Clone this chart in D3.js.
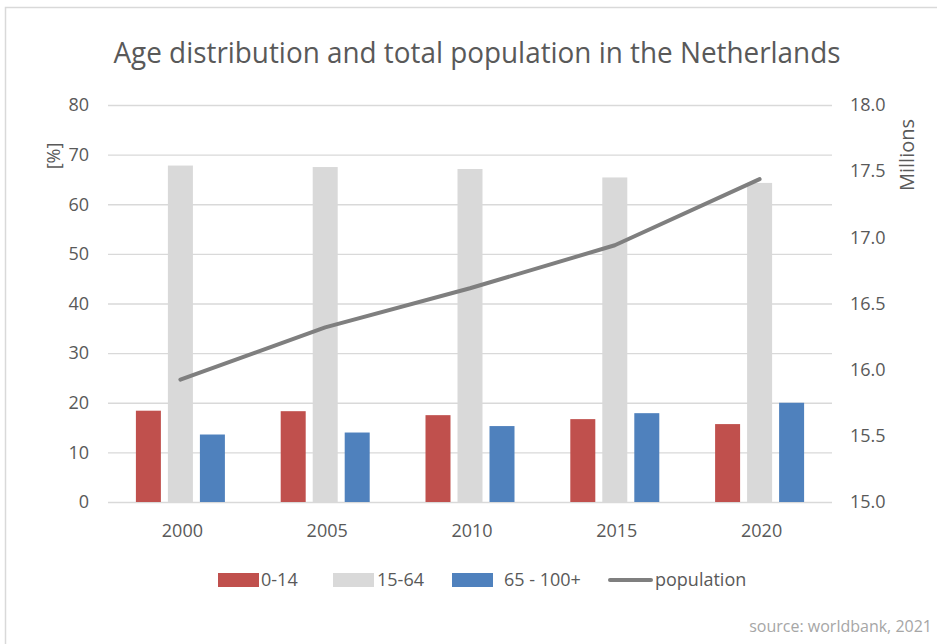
<!DOCTYPE html>
<html>
<head>
<meta charset="utf-8">
<script src="https://cdn.jsdelivr.net/npm/d3@7"></script>
<style>
  html, body { margin: 0; padding: 0; background: #fff; }
  svg { display: block; font-family: "Open Sans", "Noto Sans", sans-serif; }
</style>
</head>
<body>
<svg id="chart" width="937" height="644"></svg>
<script>
// Years on the x axis
const years = ["2000", "2005", "2010", "2015", "2020"];
// Share of the population per age group, in %
const age0to14 = [18.4, 18.3, 17.5, 16.7, 15.7];
const age15to64 = [67.8, 67.5, 67.1, 65.4, 64.3];
const age65plus = [13.6, 14.0, 15.3, 17.9, 20.0];
// Total population, in millions
const population = [15.925, 16.32, 16.615, 16.94, 17.44];
// Axis ticks
const leftTicks = [0, 10, 20, 30, 40, 50, 60, 70, 80];
const rightTicks = [15.0, 15.5, 16.0, 16.5, 17.0, 17.5, 18.0];
const seriesNames = ["0-14", "15-64", "65 - 100+"];
const seriesColors = ["#c0504d", "#d9d9d9", "#4f81bd"];
const lineColor = "#7f7f7f";

const svg = d3.select("#chart");
const plot = { left: 108, right: 832, top: 105, bottom: 502 };

// outer frame (only top and left edges fall inside the view)
svg.append("rect")
  .attr("x", 5.5).attr("y", 7.5).attr("width", 960).attr("height", 700)
  .attr("fill", "none").attr("stroke", "#d9d9d9").attr("stroke-width", 1.5);

const x = d3.scaleBand().domain(years).range([plot.left, plot.right]);
const yL = d3.scaleLinear().domain([0, 80]).range([plot.bottom, plot.top]);
const yR = d3.scaleLinear().domain([15, 18]).range([plot.bottom, plot.top]);

// gridlines
svg.append("g").selectAll("line").data(leftTicks).join("line")
  .attr("x1", plot.left).attr("x2", plot.right)
  .attr("y1", d => yL(d) + 0.5).attr("y2", d => yL(d) + 0.5)
  .attr("stroke", "#d9d9d9").attr("stroke-width", 1.3);

// left axis
const leftAxis = svg.append("g")
  .attr("transform", `translate(${plot.left - 19},0)`)
  .call(d3.axisLeft(yL).tickValues(leftTicks).tickSize(0).tickPadding(0));
leftAxis.select(".domain").remove();
leftAxis.selectAll("text").attr("font-size", 18).attr("fill", "#595959")
  .attr("font-family", "'Open Sans', sans-serif");

// right axis
const rightAxis = svg.append("g")
  .attr("transform", `translate(${plot.right + 18},0)`)
  .call(d3.axisRight(yR).tickValues(rightTicks).tickFormat(d3.format(".1f")).tickSize(0).tickPadding(0));
rightAxis.select(".domain").remove();
rightAxis.selectAll("text").attr("font-size", 18).attr("fill", "#595959")
  .attr("font-family", "'Open Sans', sans-serif");

// x axis labels
const xAxis = svg.append("g")
  .attr("transform", `translate(2,${plot.bottom + 22})`)
  .call(d3.axisBottom(x).tickSize(0).tickPadding(0));
xAxis.select(".domain").remove();
xAxis.selectAll("text").attr("font-size", 18).attr("fill", "#595959")
  .attr("dy", "0.71em").attr("font-family", "'Open Sans', sans-serif");

// grouped bars
const seriesData = [age0to14, age15to64, age65plus];
const barW = 25, barGap = 7;
const groupW = 3 * barW + 2 * barGap;
seriesData.forEach((vals, s) => {
  svg.append("g").selectAll("rect").data(vals).join("rect")
    .attr("x", (d, i) => x(years[i]) + x.bandwidth() / 2 - groupW / 2 + s * (barW + barGap))
    .attr("width", barW)
    .attr("y", d => yL(d))
    .attr("height", d => yL(0) - yL(d))
    .attr("fill", seriesColors[s]);
});

// population line
const line = d3.line()
  .x((d, i) => x(years[i]) + x.bandwidth() / 2)
  .y(d => yR(d));
svg.append("path").datum(population)
  .attr("d", line)
  .attr("fill", "none").attr("stroke", lineColor)
  .attr("stroke-width", 4).attr("stroke-linecap", "round").attr("stroke-linejoin", "round");

// title
const title = svg.append("text")
  .attr("x", 477).attr("y", 63).attr("text-anchor", "middle")
  .attr("font-size", 30).attr("fill", "#595959")
  .text("Age distribution and total population in the Netherlands");
title.attr("textLength", 727).attr("lengthAdjust", "spacingAndGlyphs");

// axis titles
svg.append("text")
  .attr("transform", "translate(60,156) rotate(-90)")
  .attr("text-anchor", "middle").attr("font-size", 18).attr("fill", "#595959")
  .text("[%]");
svg.append("text")
  .attr("transform", "translate(914,155) rotate(-90)")
  .attr("text-anchor", "middle").attr("font-size", 20).attr("fill", "#595959")
  .text("Millions");

// legend
const legend = svg.append("g").attr("font-size", 18).attr("fill", "#595959");
const legendItems = [
  { name: seriesNames[0], color: seriesColors[0], x: 218, tx: 261 },
  { name: seriesNames[1], color: seriesColors[1], x: 333, tx: 377 },
  { name: seriesNames[2], color: seriesColors[2], x: 452, tx: 504 }
];
legendItems.forEach(it => {
  legend.append("rect").attr("x", it.x).attr("y", 573).attr("width", 41).attr("height", 14).attr("fill", it.color);
  legend.append("text").attr("x", it.tx).attr("y", 580).attr("dy", "0.35em").text(it.name);
});
legend.append("line").attr("x1", 610).attr("x2", 651).attr("y1", 580).attr("y2", 580)
  .attr("stroke", lineColor).attr("stroke-width", 4).attr("stroke-linecap", "round");
legend.append("text").attr("x", 655).attr("y", 580).attr("dy", "0.35em").text("population");

// source note
svg.append("text")
  .attr("x", 932).attr("y", 632).attr("text-anchor", "end")
  .attr("font-size", 16).attr("fill", "#a6a6a6")
  .text("source: worldbank, 2021");
</script>
</body>
</html>
